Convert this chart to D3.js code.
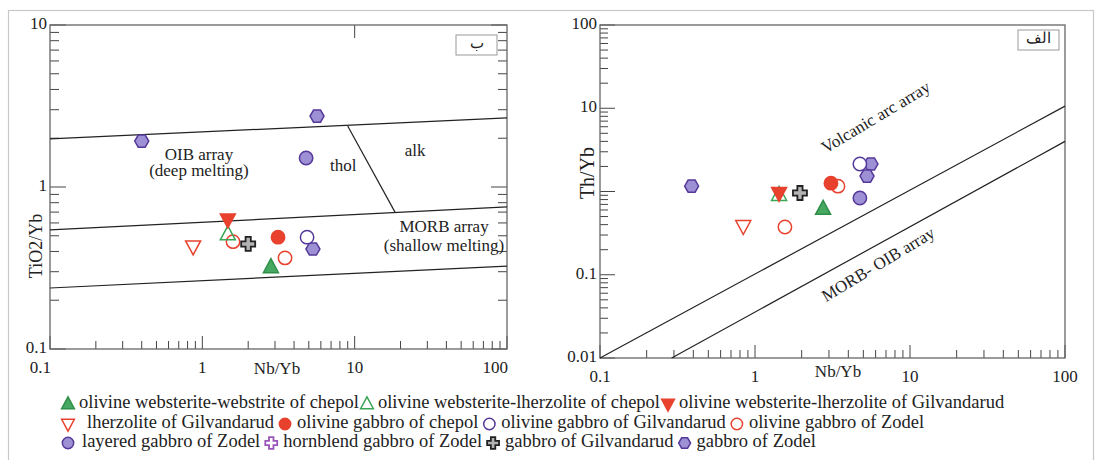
<!DOCTYPE html>
<html>
<head>
<meta charset="utf-8">
<script src="https://cdn.jsdelivr.net/npm/d3@7"></script>
<style>
  body { margin: 0; background: #fff; }
  svg { display: block; }
  text { font-family: "Liberation Serif", "Times New Roman", serif; fill: #222; }
</style>
</head>
<body>
<div id="chart"></div>
<script>
// series (legend order)
const seriesNames = [
  "olivine websterite-webstrite of chepol",
  "olivine websterite-lherzolite of chepol",
  "olivine websterite-lherzolite of Gilvandarud",
  "lherzolite of Gilvandarud",
  "olivine gabbro of chepol",
  "olivine gabbro of Gilvandarud",
  "olivine gabbro of Zodel",
  "layered gabbro of Zodel",
  "hornblend gabbro of Zodel",
  "gabbro of Gilvandarud",
  "gabbro of Zodel"
];
const legendRows = [[0, 1, 2], [3, 4, 5, 6], [7, 8, 9, 10]];

// left diagram: Nb/Yb vs TiO2/Yb
const leftNbYb  = [[2.82], [1.47], [1.47], [0.87], [3.14], [4.87], [1.59, 3.49], [4.8], [], [2.0], [0.40, 5.66, 5.32]];
const leftTiYb  = [[0.32], [0.51], [0.63], [0.43], [0.49], [0.49], [0.46, 0.365], [1.51], [], [0.445], [1.92, 2.74, 0.414]];
// right diagram: Nb/Yb vs Th/Yb
const rightNbYb = [[2.75], [1.43], [1.43], [0.84], [3.09], [4.75], [3.43, 1.56], [4.75], [], [1.95], [0.39, 5.6, 5.28]];
const rightThYb = [[0.62], [0.91], [0.96], [0.385], [1.26], [2.14], [1.16, 0.375], [0.835], [], [0.96], [1.16, 2.14, 1.53]];

// field boundaries
const leftLines = [
  [[0.1, 1.98], [100, 2.67]],
  [[0.1, 0.543], [100, 0.753]],
  [[0.1, 0.238], [100, 0.325]],
  [[9.0, 2.38], [18.4, 0.70]]
];
const rightLines = [
  [[0.1, 0.01], [100, 10.6]],
  [[0.29, 0.01], [100, 4.0]]
];
const leftFieldLabels = [
  ["OIB array", 0.95, 1.55],
  ["(deep melting)", 0.95, 1.24],
  ["thol", 8.4, 1.33],
  ["alk", 24.9, 1.64],
  ["MORB array", 38.6, 0.558],
  ["(shallow melting)", 38.6, 0.426]
];
const rightFieldLabels = [
  ["Volcanic arc array", 6.1, 7.5],
  ["MORB- OIB array", 6.3, 0.128]
];
const xTickLabels = [0.1, 1, 10, 100];
const leftYTickLabels = [0.1, 1, 10];
const rightYTickLabels = [0.01, 0.1, 10, 100]; // "1" sits under the axis title

// marker styles
const shape  = ["triUp", "triUp", "triDown", "triDown", "circle", "circle", "circle", "circle", "cross", "cross", "hex"];
const fills  = ["#47a862", "none", "#e8412e", "#fff", "#e8412e", "#fff", "#fff", "#9d90d4", "#fff", "#b4b4b4", "#9d90d4"];
const strokes = ["#2f8f48", "#3aa655", "#e8412e", "#e8412e", "#e8412e", "#55399a", "#e8412e", "#55399a", "#9a55b8", "#222", "#55399a"];
const drawOrder = [10, 7, 5, 6, 4, 0, 1, 2, 3, 9, 8];

const width = 1097, height = 460;
const FONT = 17;

const svg = d3.select("#chart").append("svg")
  .attr("width", width).attr("height", height);

svg.append("rect").attr("width", width).attr("height", height).attr("fill", "#fff");
svg.append("rect")
  .attr("x", 8.5).attr("y", 10.5).attr("width", 1085).attr("height", 480)
  .attr("fill", "none").attr("stroke", "#c8c8c8").attr("stroke-width", 1.2);

function symbolPath(kind, s) {
  s = s || 1;
  if (kind === "circle") return d3.symbol(d3.symbolCircle, 140 * s * s)();
  if (kind === "triUp") return `M0,${-8.5 * s}L${7.5 * s},${5.5 * s}L${-7.5 * s},${5.5 * s}Z`;
  if (kind === "triDown") return `M0,${8.5 * s}L${7.5 * s},${-5.5 * s}L${-7.5 * s},${-5.5 * s}Z`;
  if (kind === "hex") {
    const p = d3.range(6).map(k => [7 * s * Math.cos(k * Math.PI / 3), 7 * s * Math.sin(k * Math.PI / 3)]);
    return "M" + p.join("L") + "Z";
  }
  // plus sign
  const a = 2.6 * s, b = 7 * s;
  return `M${-a},${-b}H${a}V${-a}H${b}V${a}H${a}V${b}H${-a}V${a}H${-b}V${-a}H${-a}Z`;
}

function marker(g, i, x, y, s) {
  g.append("path")
    .attr("d", symbolPath(shape[i], s))
    .attr("transform", `translate(${x},${y})`)
    .attr("fill", fills[i])
    .attr("stroke", strokes[i])
    .attr("stroke-width", shape[i] === "cross" ? 1.8 : 1.5);
}

function panel(opt) {
  const g = svg.append("g");
  const x = opt.x, y = opt.y;
  const [x0, x1] = x.range(), [y0, y1] = y.range(); // y0 bottom, y1 top

  // ticks, inside
  const tick = (x1a, y1a, x2a, y2a) => g.append("line")
    .attr("x1", x1a).attr("y1", y1a).attr("x2", x2a).attr("y2", y2a)
    .attr("stroke", "#444").attr("stroke-width", 1);
  const isMajor = v => Math.abs(Math.log10(v) - Math.round(Math.log10(v))) < 1e-6;

  y.ticks().forEach(v => {
    const len = isMajor(v) ? opt.yMajor : opt.yMinor;
    tick(x0, y(v), x0 + len, y(v));
    if (opt.rightTicks) tick(x1, y(v), x1 - len, y(v));
  });
  x.ticks().forEach(v => {
    const len = isMajor(v) ? 13 : 8;
    tick(x(v), y0, x(v), y0 - len);
  });
  (opt.topTicks || []).forEach(v => tick(x(v), y1, x(v), y1 + 13));

  // frame
  g.append("rect")
    .attr("x", x0).attr("y", y1).attr("width", x1 - x0).attr("height", y0 - y1)
    .attr("fill", "none").attr("stroke", "#666").attr("stroke-width", 1.3);

  // tick labels
  xTickLabels.forEach((v, k) => {
    let anchor = "middle", dx = 0;
    if (opt.edgeLabels && k === 0) { anchor = "end"; dx = 1; }
    if (opt.edgeLabels && k === xTickLabels.length - 1) { anchor = "end"; dx = 1; }
    g.append("text").attr("x", x(v) + dx).attr("y", y0 + 20)
      .attr("text-anchor", anchor).attr("dominant-baseline", "middle")
      .attr("font-size", FONT).text(d3.format("~g")(v));
  });
  opt.yLabels.forEach(v => {
    g.append("text").attr("x", x0 - 3).attr("y", y(v))
      .attr("text-anchor", "end").attr("dominant-baseline", "middle")
      .attr("font-size", FONT).text(d3.format("~g")(v));
  });

  // axis titles
  g.append("text").attr("x", opt.xTitle[0]).attr("y", opt.xTitle[1])
    .attr("text-anchor", "middle").attr("dominant-baseline", "middle")
    .attr("font-size", FONT).text("Nb/Yb");
  g.append("text")
    .attr("transform", `translate(${opt.yTitle[0]},${opt.yTitle[1]}) rotate(-90)`)
    .attr("text-anchor", "middle").attr("dominant-baseline", "middle")
    .attr("font-size", opt.yTitleSize).text(opt.yTitleText);

  // boundaries
  const line = d3.line().x(d => x(d[0])).y(d => y(d[1]));
  opt.lines.forEach(l => g.append("path").attr("d", line(l))
    .attr("fill", "none").attr("stroke", "#222").attr("stroke-width", 1.2));

  // field labels
  opt.fieldLabels.forEach(([t, vx, vy]) => {
    g.append("text")
      .attr("transform", `translate(${x(vx)},${y(vy)}) rotate(${opt.labelAngle || 0})`)
      .attr("text-anchor", "middle").attr("dominant-baseline", "middle")
      .attr("font-size", FONT).text(t);
  });

  // diagram letter box
  const bx = opt.box;
  g.append("rect").attr("x", bx[0]).attr("y", bx[1]).attr("width", 41).attr("height", 20)
    .attr("fill", "#fff").attr("stroke", "#999").attr("stroke-width", 1);
  g.append("text").attr("x", bx[0] + 20.5).attr("y", bx[1] + 10)
    .attr("text-anchor", "middle").attr("dominant-baseline", "middle")
    .attr("font-family", "'Noto Sans', 'DejaVu Sans', sans-serif")
    .attr("font-size", 15).text(opt.boxText);

  // data
  const pts = g.append("g");
  drawOrder.forEach(i => {
    opt.xs[i].forEach((vx, k) => marker(pts, i, x(vx), y(opt.ys[i][k])));
  });
}

panel({
  x: d3.scaleLog().domain([0.1, 100]).range([50, 507]),
  y: d3.scaleLog().domain([0.1, 10]).range([349, 25]),
  yMajor: 16, yMinor: 9, rightTicks: true, topTicks: [10], edgeLabels: true,
  yLabels: leftYTickLabels,
  xTitle: [277, 370], yTitle: [38, 246], yTitleText: "TiO2/Yb", yTitleSize: 18,
  lines: leftLines, fieldLabels: leftFieldLabels,
  box: [456, 35], boxText: "ب",
  xs: leftNbYb, ys: leftTiYb
});

panel({
  x: d3.scaleLog().domain([0.1, 100]).range([600, 1065]),
  y: d3.scaleLog().domain([0.01, 100]).range([358, 25]),
  yMajor: 15, yMinor: 8, rightTicks: false,
  yLabels: rightYTickLabels,
  xTitle: [838, 373], yTitle: [589, 173], yTitleText: "Th/Yb", yTitleSize: 20,
  lines: rightLines, fieldLabels: rightFieldLabels, labelAngle: -31,
  box: [1018, 30], boxText: "الف",
  xs: rightNbYb, ys: rightThYb
});

// legend, flowing rows
const legend = svg.append("g");
const rowY = [404, 424, 443];
const symGap = [11, 12, 12];    // symbol centre -> text
const firstGap = [11, 19, 14];
const textGap = [8, 11, 11];    // text end -> next symbol centre
legendRows.forEach((row, r) => {
  let cx = 68;
  row.forEach((i, k) => {
    marker(legend, i, cx, rowY[r], 0.85);
    const gap = k === 0 ? firstGap[r] : symGap[r];
    const t = legend.append("text")
      .attr("x", cx + gap).attr("y", rowY[r])
      .attr("dominant-baseline", "middle")
      .attr("font-size", 18.5).text(seriesNames[i]);
    cx += gap + t.node().getComputedTextLength() + textGap[r];
  });
});
</script>
</body>
</html>
